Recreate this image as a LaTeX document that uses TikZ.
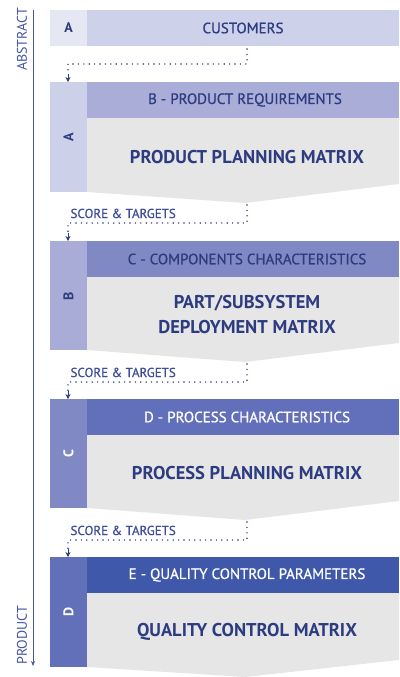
\documentclass[tikz,border=0pt]{standalone}
\usepackage{fontspec}
\setmainfont{PT Sans}
\newfontfamily\hdrf{PT Sans}[FakeBold=0.8]
\usetikzlibrary{arrows.meta}
\definecolor{navy}{HTML}{2D3B80}
\definecolor{navyl}{HTML}{3E4E98}
\definecolor{axisc}{HTML}{4656A3}
\definecolor{tabA}{HTML}{E5E7F3}
\definecolor{custc}{HTML}{CDD1E9}
\definecolor{tabB}{HTML}{CCD0E8}
\definecolor{hdrB}{HTML}{A9ADD8}
\definecolor{tabC}{HTML}{A8ACD6}
\definecolor{hdrC}{HTML}{8089C4}
\definecolor{tabD}{HTML}{8089C3}
\definecolor{hdrD}{HTML}{6270BB}
\definecolor{tabE}{HTML}{6170B8}
\definecolor{hdrE}{HTML}{3F58AA}
\definecolor{bodyg}{HTML}{E6E6E6}
\begin{document}
\begin{tikzpicture}[x=1pt,y=-1pt,
  hdr/.style={font=\hdrf\fontsize{15}{17}\selectfont},
  bodytxt/.style={font=\bfseries\fontsize{18.5}{25}\selectfont, text=navy, align=center},
  tabl/.style={font=\bfseries\fontsize{14}{16}\selectfont, rotate=90},
  dots/.style={navy, line width=1.6pt, dash pattern=on 0pt off 5.4pt, line cap=round},
  arr/.style={navy, line width=0.7pt, -{Stealth[length=5pt,width=5pt]}},
  score/.style={font=\hdrf\fontsize{13}{15}\selectfont, text=navyl, anchor=base west},
  side/.style={font=\fontsize{14}{16}\selectfont, text=axisc, rotate=90}]
\useasboundingbox (0,0) rectangle (399,677);

% axis
\coordinate (axtop) at (33,10);
\coordinate (axbot) at (33,666);
\draw[axisc, line width=0.9pt, -{Stealth[length=5pt,width=4pt]}] (axtop) -- (axbot);
\node[side, anchor=east, inner sep=0pt] (abs) at (22,8) {ABSTRACT};
\node[side, anchor=west, inner sep=0pt] (prod) at (22,665) {PRODUCT};

% row A
\fill[tabA] (50,10) rectangle (87,46);
\fill[custc] (87,10) rectangle (399,46);
\node[font=\bfseries\fontsize{14}{16}\selectfont, text=navy] (tA) at (68.5,28) {A};
\node[hdr, text=navy] (cust) at (243,28) {CUSTOMERS};

% block B
\fill[tabB] (50,82) rectangle (87,192);
\fill[hdrB] (87,82) rectangle (399,118);
\fill[bodyg] (87,118) -- (399,118) -- (399,184) -- (245,203) -- (87,192) -- cycle;
\node[tabl, text=navy] (tB) at (68.5,137) {A};
\node[hdr, text=navy] (hB) at (245,100) {B - PRODUCT REQUIREMENTS};
\node[bodytxt] (bB) at (247,157) {PRODUCT PLANNING MATRIX};

% block C
\fill[tabC] (50,241) rectangle (87,350);
\fill[hdrC] (87,241) rectangle (399,277);
\fill[bodyg] (87,277) -- (399,277) -- (399,343) -- (245,362) -- (87,350) -- cycle;
\node[tabl, text=navy] (tC) at (68.5,296) {B};
\node[hdr, text=navy] (hC) at (247,259) {C - COMPONENTS CHARACTERISTICS};
\node[bodytxt] (bC) at (247,315) {PART/SUBSYSTEM\\DEPLOYMENT MATRIX};

% block D
\fill[tabD] (50,399) rectangle (87,508);
\fill[hdrD] (87,399) rectangle (399,435);
\fill[bodyg] (87,435) -- (399,435) -- (399,501) -- (245,520) -- (87,508) -- cycle;
\node[tabl, text=white] (tD) at (68.5,454) {C};
\node[hdr, text=white] (hD) at (247,417) {D - PROCESS CHARACTERISTICS};
\node[bodytxt] (bD) at (247,473) {PROCESS PLANNING MATRIX};

% block E
\fill[tabE] (50,557) rectangle (87,667);
\fill[hdrE] (87,557) rectangle (399,593);
\fill[bodyg] (87,593) -- (399,593) -- (399,660) -- (245,677) -- (87,667) -- cycle;
\node[tabl, text=white] (tE) at (68.5,612) {D};
\node[hdr, text=white] (hE) at (247,575) {E - QUALITY CONTROL PARAMETERS};
\node[bodytxt] (bE) at (247,632) {QUALITY CONTROL MATRIX};

% connectors
\coordinate (k1s) at (247,49); \coordinate (k1m) at (247,64);
\coordinate (k1l) at (68,64);  \coordinate (k1a) at (68,74); \coordinate (k1e) at (68,82);
\draw[dots] (k1s) -- (k1m) -- (k1l) -- (k1a);
\draw[arr] (k1a) -- (k1e);

\coordinate (k2s) at (247,205); \coordinate (k2m) at (247,223);
\coordinate (k2l) at (68,223);  \coordinate (k2a) at (68,233); \coordinate (k2e) at (68,241);
\draw[dots] (k2s) -- (k2m) -- (k2l) -- (k2a);
\draw[arr] (k2a) -- (k2e);
\node[score] (s2) at (67,218) {SCORE \& TARGETS};

\coordinate (k3s) at (247,364); \coordinate (k3m) at (247,382);
\coordinate (k3l) at (68,382);  \coordinate (k3a) at (68,391); \coordinate (k3e) at (68,399);
\draw[dots] (k3s) -- (k3m) -- (k3l) -- (k3a);
\draw[arr] (k3a) -- (k3e);
\node[score] (s3) at (67,377) {SCORE \& TARGETS};

\coordinate (k4s) at (247,522); \coordinate (k4m) at (247,540);
\coordinate (k4l) at (68,540);  \coordinate (k4a) at (68,549); \coordinate (k4e) at (68,557);
\draw[dots] (k4s) -- (k4m) -- (k4l) -- (k4a);
\draw[arr] (k4a) -- (k4e);
\node[score] (s4) at (67,535) {SCORE \& TARGETS};
\end{tikzpicture}
\end{document}
